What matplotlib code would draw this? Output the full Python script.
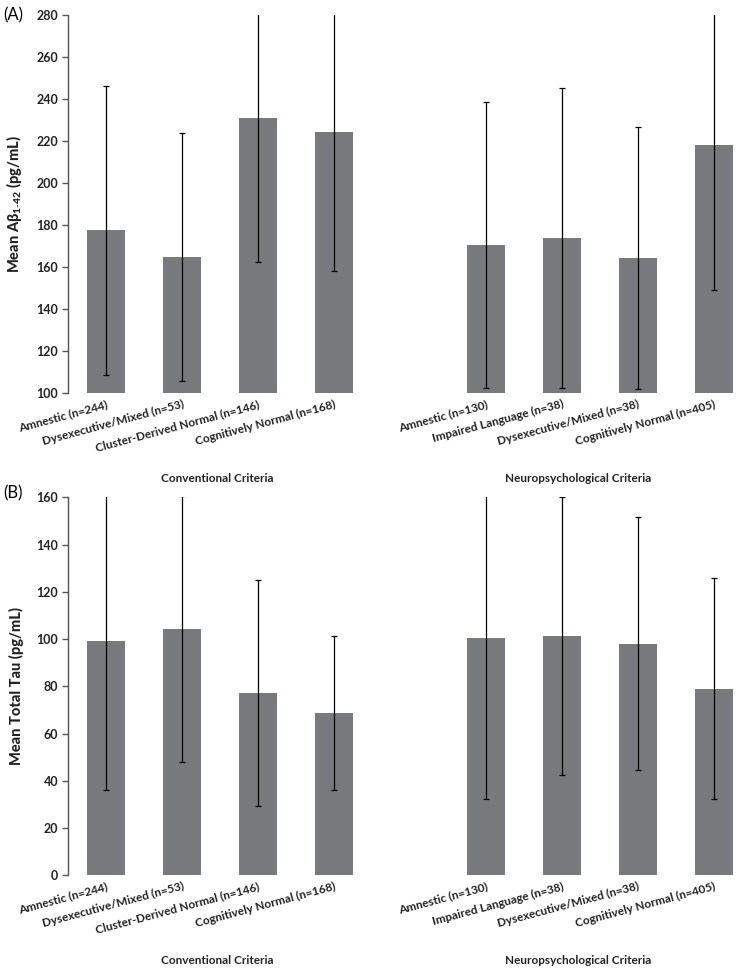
import matplotlib.pyplot as plt
import numpy as np

plt.rcParams['font.family'] = ['Lato', 'DejaVu Sans']
plt.rcParams['mathtext.fontset'] = 'custom'
plt.rcParams['mathtext.rm'] = 'Lato'
plt.rcParams['mathtext.bf'] = 'Lato:black'

conv_labels = ['Amnestic (n=244)', 'Dysexecutive/Mixed (n=53)',
               'Cluster-Derived Normal (n=146)', 'Cognitively Normal (n=168)']
neuro_labels = ['Amnestic (n=130)', 'Impaired Language (n=38)',
                'Dysexecutive/Mixed (n=38)', 'Cognitively Normal (n=405)']

# Panel A: amyloid beta 1-42
abeta_conv = [177.4, 164.9, 230.8, 224.2]
abeta_conv_sd = [68.7, 59.0, 68.5, 66.0]
abeta_neuro = [170.7, 173.8, 164.2, 218.0]
abeta_neuro_sd = [68.1, 71.3, 62.3, 68.8]

# Panel B: total tau
tau_conv = [99.3, 104.1, 77.3, 68.7]
tau_conv_sd = [63.3, 56.3, 47.8, 32.6]
tau_neuro = [100.3, 101.3, 98.1, 79.0]
tau_neuro_sd = [68.0, 58.8, 53.6, 46.7]

bar_color = '#78797d'
spine_color = '#555555'
text_color = '#222222'

fig = plt.figure(figsize=(7.44, 9.76), dpi=100)


def draw_panel(ax, conv, conv_sd, neuro, neuro_sd, ylim, yticks, ylabel):
    x_conv = np.arange(4)
    x_neuro = np.arange(5, 9)
    ax.bar(x_conv, conv, width=0.5, color=bar_color)
    ax.bar(x_neuro, neuro, width=0.5, color=bar_color)
    ax.errorbar(x_conv, conv, yerr=conv_sd, fmt='none', ecolor='black',
                elinewidth=0.9, capsize=2, capthick=0.9)
    ax.errorbar(x_neuro, neuro, yerr=neuro_sd, fmt='none', ecolor='black',
                elinewidth=0.9, capsize=2, capthick=0.9)
    ax.set_ylim(*ylim)
    ax.set_xlim(-0.5, 8.4)
    ax.set_yticks(yticks)
    ax.set_yticklabels([str(t) for t in yticks], fontsize=9, fontweight='bold', color=text_color)
    ax.set_xticks(list(x_conv) + list(x_neuro))
    ax.set_xticklabels(conv_labels + neuro_labels, rotation=15, ha='right',
                       rotation_mode='anchor', fontsize=8.5, fontweight='bold', color=text_color)
    for s in ['top', 'right', 'bottom']:
        ax.spines[s].set_visible(False)
    ax.spines['left'].set_color(spine_color)
    ax.spines['left'].set_linewidth(1)
    ax.tick_params(axis='y', length=4, width=1, color=spine_color, pad=3)
    ax.tick_params(axis='x', length=0, pad=4)
    ax.set_ylabel(ylabel, fontsize=10.5, fontweight='black', labelpad=9, color=text_color)
    ax.text(1.46, -0.225, 'Conventional Criteria', transform=ax.get_xaxis_transform(),
            ha='center', va='center', fontsize=8.5, fontweight='bold', color=text_color)
    ax.text(6.21, -0.225, 'Neuropsychological Criteria', transform=ax.get_xaxis_transform(),
            ha='center', va='center', fontsize=8.5, fontweight='bold', color=text_color)
    ax.patch.set_alpha(0)


ax1 = fig.add_axes([0.0914, 0.5973, 0.9086, 0.3873])
draw_panel(ax1, abeta_conv, abeta_conv_sd, abeta_neuro, abeta_neuro_sd,
           (100, 280), list(range(100, 281, 20)),
           r'Mean A$\mathbf{\beta}_{\mathbf{1\text{-}42}}$ (pg/mL)')

ax2 = fig.add_axes([0.0914, 0.1032, 0.9086, 0.3873])
draw_panel(ax2, tau_conv, tau_conv_sd, tau_neuro, tau_neuro_sd,
           (0, 160), list(range(0, 161, 20)),
           'Mean Total Tau (pg/mL)')

fig.text(0.005, 0.984, '(A)', fontsize=12, va='center', ha='left')
fig.text(0.005, 0.494, '(B)', fontsize=12, va='center', ha='left')

plt.savefig('out.png', dpi=100)
